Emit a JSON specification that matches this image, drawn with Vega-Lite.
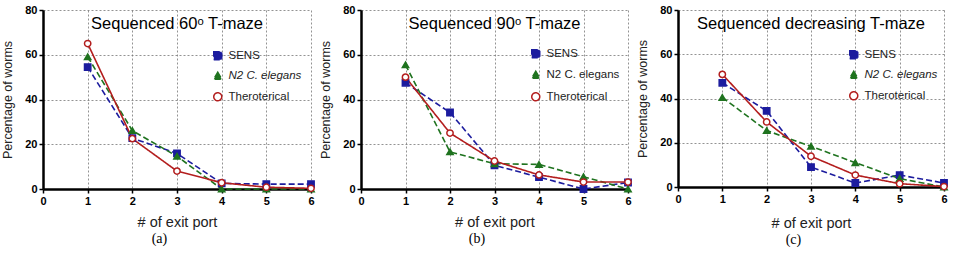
{
  "$schema": "https://vega.github.io/schema/vega-lite/v6.json",
  "padding": {"left": 1, "top": 4, "right": 0, "bottom": 0},
  "background": "white",
  "data": {
    "values": [
      {"panel": "a", "port": 1, "series": "SENS", "pct": 54.5},
      {"panel": "a", "port": 2, "series": "SENS", "pct": 22.7},
      {"panel": "a", "port": 3, "series": "SENS", "pct": 15.9},
      {"panel": "a", "port": 4, "series": "SENS", "pct": 2.5},
      {"panel": "a", "port": 5, "series": "SENS", "pct": 2.2},
      {"panel": "a", "port": 6, "series": "SENS", "pct": 2.2},
      {"panel": "a", "port": 1, "series": "N2 C. elegans", "pct": 59.1},
      {"panel": "a", "port": 2, "series": "N2 C. elegans", "pct": 26.1},
      {"panel": "a", "port": 3, "series": "N2 C. elegans", "pct": 14.6},
      {"panel": "a", "port": 4, "series": "N2 C. elegans", "pct": 0},
      {"panel": "a", "port": 5, "series": "N2 C. elegans", "pct": 0},
      {"panel": "a", "port": 6, "series": "N2 C. elegans", "pct": 0},
      {"panel": "a", "port": 1, "series": "Theroterical", "pct": 65},
      {"panel": "a", "port": 2, "series": "Theroterical", "pct": 22.5},
      {"panel": "a", "port": 3, "series": "Theroterical", "pct": 8},
      {"panel": "a", "port": 4, "series": "Theroterical", "pct": 2.8},
      {"panel": "a", "port": 5, "series": "Theroterical", "pct": 0.8},
      {"panel": "a", "port": 6, "series": "Theroterical", "pct": 0.3},
      {"panel": "b", "port": 1, "series": "SENS", "pct": 47.5},
      {"panel": "b", "port": 2, "series": "SENS", "pct": 34.2},
      {"panel": "b", "port": 3, "series": "SENS", "pct": 10.6},
      {"panel": "b", "port": 4, "series": "SENS", "pct": 5.3},
      {"panel": "b", "port": 5, "series": "SENS", "pct": 0},
      {"panel": "b", "port": 6, "series": "SENS", "pct": 2.9},
      {"panel": "b", "port": 1, "series": "N2 C. elegans", "pct": 55.5},
      {"panel": "b", "port": 2, "series": "N2 C. elegans", "pct": 16.6},
      {"panel": "b", "port": 3, "series": "N2 C. elegans", "pct": 11.3},
      {"panel": "b", "port": 4, "series": "N2 C. elegans", "pct": 11.0},
      {"panel": "b", "port": 5, "series": "N2 C. elegans", "pct": 5.5},
      {"panel": "b", "port": 6, "series": "N2 C. elegans", "pct": 0},
      {"panel": "b", "port": 1, "series": "Theroterical", "pct": 50},
      {"panel": "b", "port": 2, "series": "Theroterical", "pct": 25},
      {"panel": "b", "port": 3, "series": "Theroterical", "pct": 12.5},
      {"panel": "b", "port": 4, "series": "Theroterical", "pct": 6.3},
      {"panel": "b", "port": 5, "series": "Theroterical", "pct": 3.1},
      {"panel": "b", "port": 6, "series": "Theroterical", "pct": 3.1},
      {"panel": "c", "port": 1, "series": "SENS", "pct": 47.1},
      {"panel": "c", "port": 2, "series": "SENS", "pct": 34.4},
      {"panel": "c", "port": 3, "series": "SENS", "pct": 9.0},
      {"panel": "c", "port": 4, "series": "SENS", "pct": 1.8},
      {"panel": "c", "port": 5, "series": "SENS", "pct": 5.4},
      {"panel": "c", "port": 6, "series": "SENS", "pct": 1.8},
      {"panel": "c", "port": 1, "series": "N2 C. elegans", "pct": 40.5},
      {"panel": "c", "port": 2, "series": "N2 C. elegans", "pct": 25.5},
      {"panel": "c", "port": 3, "series": "N2 C. elegans", "pct": 18.4},
      {"panel": "c", "port": 4, "series": "N2 C. elegans", "pct": 11.0},
      {"panel": "c", "port": 5, "series": "N2 C. elegans", "pct": 3.8},
      {"panel": "c", "port": 6, "series": "N2 C. elegans", "pct": 0},
      {"panel": "c", "port": 1, "series": "Theroterical", "pct": 50.9},
      {"panel": "c", "port": 2, "series": "Theroterical", "pct": 29.4},
      {"panel": "c", "port": 3, "series": "Theroterical", "pct": 13.9},
      {"panel": "c", "port": 4, "series": "Theroterical", "pct": 5.4},
      {"panel": "c", "port": 5, "series": "Theroterical", "pct": 1.5},
      {"panel": "c", "port": 6, "series": "Theroterical", "pct": 0.2}
    ]
  },
  "spacing": 1,
  "resolve": {"scale": {"stroke": "independent", "fill": "independent", "shape": "independent", "strokeDash": "independent"}, "legend": {"stroke": "independent"}},
  "hconcat": [
    {
      "title": {"text": "(a)", "orient": "bottom", "font": "Liberation Serif", "fontSize": 14, "fontWeight": "normal", "offset": 3, "anchor": "middle", "color": "black"},
      "vconcat": [
        {
          "width": 268, "height": 179,
          "title": {"text": "Sequenced 60ᵒ T-maze", "frame": "group", "offset": -41, "baseline": "alphabetic", "fontSize": 16.5, "fontWeight": "normal", "font": "Liberation Sans", "color": "black", "anchor": "middle"},
          "transform": [{"filter": "datum.panel === 'a'"}],
          "encoding": {
            "x": {"field": "port", "type": "quantitative", "scale": {"domain": [0, 6], "nice": false}, "axis": {"title": "# of exit port", "values": [0, 1, 2, 3, 4, 5, 6]}},
            "y": {"field": "pct", "type": "quantitative", "scale": {"domain": [0, 80], "nice": false}, "axis": {"title": "Percentage of worms", "values": [0, 20, 40, 60, 80]}}
          },
          "layer": [
            {
              "mark": {"type": "line", "strokeWidth": 1.6},
              "encoding": {
                "detail": {"field": "series"},
                "stroke": {"field": "series", "type": "nominal", "scale": {"domain": ["SENS", "N2 C. elegans", "Theroterical"], "range": ["#1c1c9e", "#1f731f", "#b31e1e"]},
                  "legend": {"orient": "none", "legendX": 169, "legendY": 40, "title": null, "labelFontSize": 11.5, "labelFont": "Liberation Sans", "labelColor": "#222", "symbolSize": 64, "rowPadding": 6, "labelOffset": 5, "padding": 0,
                    "encode": {
                      "symbols": {"update": {
                        "shape": {"signal": "datum.value === 'SENS' ? 'M-1,0H-0.4M0.4,0H1M-0.38,-0.38H0.38V0.38H-0.38Z' : datum.value === 'Theroterical' ? 'M-1,0H-0.4M0.4,0H1M0.4,0A0.4,0.4 0 1,1 -0.4,0A0.4,0.4 0 1,1 0.4,0Z' : 'M-1,0H-0.42M0.42,0H1M0,-0.45L0.44,0.32H-0.44Z'"},
                        "fill": {"signal": "datum.value === 'SENS' ? '#1c1c9e' : datum.value === 'Theroterical' ? '#ffffff' : '#1f731f'"},
                        "stroke": {"signal": "datum.value === 'SENS' ? '#1c1c9e' : datum.value === 'Theroterical' ? '#b31e1e' : '#1f731f'"},
                        "strokeWidth": {"value": 1.5}, "strokeDash": {"value": []}, "opacity": {"value": 1}
                      }},
                      "labels": {"update": {"fontStyle": {"signal": "datum.value === 'N2 C. elegans' ? 'italic' : 'normal'"}}}
                    }
                  }},
                "strokeDash": {"field": "series", "type": "nominal", "scale": {"domain": ["SENS", "N2 C. elegans", "Theroterical"], "range": [[6, 3], [6, 3], [1, 0]]}, "legend": null}
              }
            },
            {
              "mark": {"type": "point", "filled": false, "size": 40, "strokeWidth": 1.5, "opacity": 1},
              "encoding": {
                "stroke": {"field": "series", "type": "nominal"},
                "fill": {"field": "series", "type": "nominal", "scale": {"domain": ["SENS", "N2 C. elegans", "Theroterical"], "range": ["#1c1c9e", "#1f731f", "#ffffff"]}, "legend": null},
                "shape": {"field": "series", "type": "nominal", "scale": {"domain": ["SENS", "N2 C. elegans", "Theroterical"], "range": ["square", "triangle-up", "circle"]}, "legend": null}
              }
            }
          ]
        }
      ]
    },
    {
      "title": {"text": "(b)", "orient": "bottom", "font": "Liberation Serif", "fontSize": 14, "fontWeight": "normal", "offset": 3, "anchor": "middle", "color": "black"},
      "vconcat": [
        {
          "width": 267, "height": 179,
          "title": {"text": "Sequenced 90ᵒ T-maze", "frame": "group", "offset": -41, "baseline": "alphabetic", "fontSize": 16.5, "fontWeight": "normal", "font": "Liberation Sans", "color": "black", "anchor": "middle"},
          "transform": [{"filter": "datum.panel === 'b'"}],
          "encoding": {
            "x": {"field": "port", "type": "quantitative", "scale": {"domain": [0, 6], "nice": false}, "axis": {"title": "# of exit port", "values": [0, 1, 2, 3, 4, 5, 6]}},
            "y": {"field": "pct", "type": "quantitative", "scale": {"domain": [0, 80], "nice": false}, "axis": {"title": "Percentage of worms", "values": [0, 20, 40, 60, 80]}}
          },
          "layer": [
            {
              "mark": {"type": "line", "strokeWidth": 1.6},
              "encoding": {
                "detail": {"field": "series"},
                "stroke": {"field": "series", "type": "nominal", "scale": {"domain": ["SENS", "N2 C. elegans", "Theroterical"], "range": ["#1c1c9e", "#1f731f", "#b31e1e"]},
                  "legend": {"orient": "none", "legendX": 169, "legendY": 38, "title": null, "labelFontSize": 11.5, "labelFont": "Liberation Sans", "labelColor": "#222", "symbolSize": 64, "rowPadding": 7, "labelOffset": 5, "padding": 0,
                    "encode": {
                      "symbols": {"update": {
                        "shape": {"signal": "datum.value === 'SENS' ? 'M-1,0H-0.4M0.4,0H1M-0.38,-0.38H0.38V0.38H-0.38Z' : datum.value === 'Theroterical' ? 'M-1,0H-0.4M0.4,0H1M0.4,0A0.4,0.4 0 1,1 -0.4,0A0.4,0.4 0 1,1 0.4,0Z' : 'M-1,0H-0.42M0.42,0H1M0,-0.45L0.44,0.32H-0.44Z'"},
                        "fill": {"signal": "datum.value === 'SENS' ? '#1c1c9e' : datum.value === 'Theroterical' ? '#ffffff' : '#1f731f'"},
                        "stroke": {"signal": "datum.value === 'SENS' ? '#1c1c9e' : datum.value === 'Theroterical' ? '#b31e1e' : '#1f731f'"},
                        "strokeWidth": {"value": 1.5}, "strokeDash": {"value": []}, "opacity": {"value": 1}
                      }}
                    }
                  }},
                "strokeDash": {"field": "series", "type": "nominal", "scale": {"domain": ["SENS", "N2 C. elegans", "Theroterical"], "range": [[6, 3], [6, 3], [1, 0]]}, "legend": null}
              }
            },
            {
              "mark": {"type": "point", "filled": false, "size": 40, "strokeWidth": 1.5, "opacity": 1},
              "encoding": {
                "stroke": {"field": "series", "type": "nominal"},
                "fill": {"field": "series", "type": "nominal", "scale": {"domain": ["SENS", "N2 C. elegans", "Theroterical"], "range": ["#1c1c9e", "#1f731f", "#ffffff"]}, "legend": null},
                "shape": {"field": "series", "type": "nominal", "scale": {"domain": ["SENS", "N2 C. elegans", "Theroterical"], "range": ["square", "triangle-up", "circle"]}, "legend": null}
              }
            }
          ]
        }
      ]
    },
    {
      "title": {"text": "(c)", "orient": "bottom", "font": "Liberation Serif", "fontSize": 14, "fontWeight": "normal", "offset": 3, "anchor": "middle", "color": "black"},
      "vconcat": [
        {
          "width": 266, "height": 177,
          "title": {"text": "Sequenced decreasing T-maze", "frame": "group", "offset": -41, "baseline": "alphabetic", "fontSize": 16.5, "fontWeight": "normal", "font": "Liberation Sans", "color": "black", "anchor": "middle"},
          "transform": [{"filter": "datum.panel === 'c'"}],
          "encoding": {
            "x": {"field": "port", "type": "quantitative", "scale": {"domain": [0, 6], "nice": false}, "axis": {"title": "# of exit port", "values": [0, 1, 2, 3, 4, 5, 6], "titlePadding": 12}},
            "y": {"field": "pct", "type": "quantitative", "scale": {"domain": [0, 80], "nice": false}, "axis": {"title": "Percentage of worms", "values": [0, 20, 40, 60, 80]}}
          },
          "layer": [
            {
              "mark": {"type": "line", "strokeWidth": 1.6},
              "encoding": {
                "detail": {"field": "series"},
                "stroke": {"field": "series", "type": "nominal", "scale": {"domain": ["SENS", "N2 C. elegans", "Theroterical"], "range": ["#1c1c9e", "#1f731f", "#b31e1e"]},
                  "legend": {"orient": "none", "legendX": 170, "legendY": 39, "title": null, "labelFontSize": 11.5, "labelFont": "Liberation Sans", "labelColor": "#222", "symbolSize": 64, "rowPadding": 6, "labelOffset": 5, "padding": 0,
                    "encode": {
                      "symbols": {"update": {
                        "shape": {"signal": "datum.value === 'SENS' ? 'M-1,0H-0.4M0.4,0H1M-0.38,-0.38H0.38V0.38H-0.38Z' : datum.value === 'Theroterical' ? 'M-1,0H-0.4M0.4,0H1M0.4,0A0.4,0.4 0 1,1 -0.4,0A0.4,0.4 0 1,1 0.4,0Z' : 'M-1,0H-0.42M0.42,0H1M0,-0.45L0.44,0.32H-0.44Z'"},
                        "fill": {"signal": "datum.value === 'SENS' ? '#1c1c9e' : datum.value === 'Theroterical' ? '#ffffff' : '#1f731f'"},
                        "stroke": {"signal": "datum.value === 'SENS' ? '#1c1c9e' : datum.value === 'Theroterical' ? '#b31e1e' : '#1f731f'"},
                        "strokeWidth": {"value": 1.5}, "strokeDash": {"value": []}, "opacity": {"value": 1}
                      }},
                      "labels": {"update": {"fontStyle": {"signal": "datum.value === 'N2 C. elegans' ? 'italic' : 'normal'"}}}
                    }
                  }},
                "strokeDash": {"field": "series", "type": "nominal", "scale": {"domain": ["SENS", "N2 C. elegans", "Theroterical"], "range": [[6, 3], [6, 3], [1, 0]]}, "legend": null}
              }
            },
            {
              "mark": {"type": "point", "filled": false, "size": 40, "strokeWidth": 1.5, "opacity": 1},
              "encoding": {
                "stroke": {"field": "series", "type": "nominal"},
                "fill": {"field": "series", "type": "nominal", "scale": {"domain": ["SENS", "N2 C. elegans", "Theroterical"], "range": ["#1c1c9e", "#1f731f", "#ffffff"]}, "legend": null},
                "shape": {"field": "series", "type": "nominal", "scale": {"domain": ["SENS", "N2 C. elegans", "Theroterical"], "range": ["square", "triangle-up", "circle"]}, "legend": null}
              }
            }
          ]
        }
      ]
    }
  ],
  "config": {
    "view": {"stroke": null},
    "axis": {
      "domainColor": "black", "domainWidth": 2.5, "tickColor": "black", "tickWidth": 1.5, "tickSize": 4,
      "labelFont": "Liberation Sans", "labelFontWeight": "bold", "labelFontSize": 11, "labelColor": "black", "labelPadding": 2,
      "titleFont": "Liberation Sans", "titleFontWeight": "normal", "grid": true, "gridColor": "#777", "gridDash": [2, 2], "gridWidth": 0.8, "gridOpacity": 1
    },
    "axisX": {"titlePadding": 9, "titleFontSize": 14.5, "titleColor": "#222", "labelFlush": false},
    "axisY": {"titlePadding": 10, "titleFontSize": 12.5, "titleColor": "#222", "labelFlush": false}
  }
}
